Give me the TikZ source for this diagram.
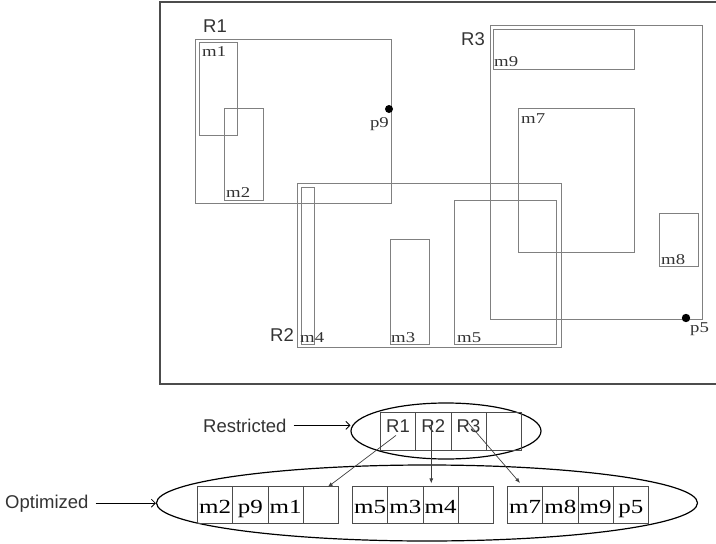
\documentclass[tikz,border=0pt]{standalone}
\usepackage{fontspec}
\setmainfont{Liberation Serif}
\setsansfont{Liberation Sans}
\newfontfamily\widefont[FakeStretch=1.25]{Liberation Serif}
\usetikzlibrary{arrows.meta,positioning,shapes.geometric,calc}

\begin{document}
\begin{tikzpicture}[x=1pt, y=-1pt,
    frame/.style={draw=black!70, line width=1.2pt},
    box/.style={draw=black!50, line width=0.8pt},
    mlab/.style={anchor=base west, inner sep=0pt, text=black!80, font=\widefont\fontsize{15}{15}\selectfont},
    rlab/.style={anchor=base west, inner sep=0pt, text=black!80, font=\sffamily\fontsize{18.5}{18.5}\selectfont},
    cell/.style={draw=black!70, line width=0.8pt, anchor=north west, minimum width=35.25pt, minimum height=37pt,
      inner sep=0pt, text height=17pt, text depth=0pt, font=\widefont\fontsize{20}{20}\selectfont},
    rcell/.style={cell, minimum height=38pt, text height=13pt, text depth=10pt, text=black!80,
      font=\sffamily\fontsize{18.5}{18.5}\selectfont},
    oval/.style={draw, ellipse, line width=1.2pt, inner sep=0pt},
    arr/.style={-{Latex[length=5pt, width=4pt]}, line width=0.7pt, draw=black!75},
    pointer/.style={-{Straight Barb[length=4pt]}, line width=0.8pt}
  ]
    \useasboundingbox (0,0) rectangle (716,544);
    \draw[frame] (716,2) -- (160,2) -- (160,384) -- (716,384);

    % regions and their members
    \draw[box] (195,39) rectangle (391,203);
    \draw[box] (199,42) rectangle (237,135);
    \draw[box] (224,108) rectangle (263,200);
    \draw[box] (297,183) rectangle (561,347);
    \draw[box] (301,187) rectangle (314,344);
    \draw[box] (390,239) rectangle (429,344);
    \draw[box] (454,200) rectangle (556,344);
    \draw[box] (490,25) rectangle (702,319);
    \draw[box] (493,29) rectangle (634,69);
    \draw[box] (518,108) rectangle (634,252);
    \draw[box] (659,213) rectangle (698,266);
    \fill (389,109) circle (4pt);
    \fill (686,318) circle (4.2pt);

    \node[rlab] (lR1) at (203,32) {R1};
    \node[rlab] (lR2) at (270,341) {R2};
    \node[rlab] (lR3) at (461,45) {R3};
    \node[mlab] (lm1) at (202,56) {m1};
    \node[mlab] (lm2) at (226,197) {m2};
    \node[mlab] (lm3) at (391,342) {m3};
    \node[mlab] (lm4) at (300,342) {m4};
    \node[mlab] (lm5) at (457,342) {m5};
    \node[mlab] (lm7) at (521,123) {m7};
    \node[mlab] (lm8) at (661,264) {m8};
    \node[mlab] (lm9) at (494,66) {m9};
    \node[mlab, anchor=base east] (lp9) at (389,127) {p9};
    \node[mlab] (lp5) at (690,332) {p5};

    % index
    \node[oval, minimum width=190pt, minimum height=56pt] (restr) at (446,431) {};
    \node[oval, minimum width=541pt, minimum height=76pt] (optim) at (427,503) {};
    \foreach \t [count=\i] in {R1,R2,R3,{}}
      \node[rcell] (r\i) at (380+35.25*\i-35.25,412) {\t};
    \foreach \t [count=\i] in {m2,p9,m1,{}}
      \node[cell] (o1\i) at (197+35.25*\i-35.25,486) {\t};
    \foreach \t [count=\i] in {m5,m3,m4,{}}
      \node[cell] (o2\i) at (352+35.25*\i-35.25,486) {\t};
    \foreach \t [count=\i] in {m7,m8,m9,p5}
      \node[cell] (o3\i) at (507+35.25*\i-35.25,486) {\t};

    \node[rlab] (restrlab) at (203,432) {Restricted};
    \node[rlab] (optimlab) at (5,508) {Optimized};
    \draw[pointer, shorten <=7pt] (restrlab.east) -- (restrlab.east -| restr.west);
    \draw[pointer, shorten <=7pt] (optimlab.east) -- (optimlab.east -| optim.west);

    \draw[arr] ($(r1)+(-2,4)$) -- ($(o14.north)+(7,1)$);
    \draw[arr] ($(r2)+(-2,-9)$) -- ($(r2)+(-2,52)$);
    \draw[arr] ($(r3)+(0,-8)$) -- ($(o31.north)+(-5,-3)$);
\end{tikzpicture}
\end{document}
